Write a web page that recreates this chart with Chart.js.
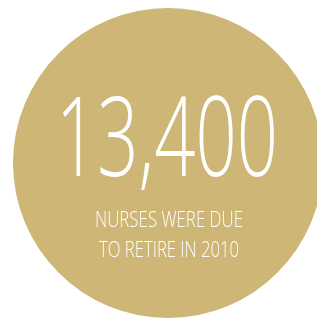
<!DOCTYPE html>
<html>
<head>
<meta charset="utf-8">
<script src="https://cdn.jsdelivr.net/npm/chart.js@4.4.1/dist/chart.umd.min.js"></script>
<style>
  html, body { margin: 0; padding: 0; background: #fff; overflow: hidden; }
  #wrap { width: 330px; height: 330px; }
</style>
</head>
<body>
<div id="wrap"><canvas id="statChart" width="330" height="330"></canvas></div>
<script>
const labels = ["Nurses due to retire in 2010"];
const values = [13400];
const bigLabel = "13,400";
const captionLines = ["NURSES WERE DUE", "TO RETIRE IN 2010"];

// draws the number and caption in the middle of the circle
const centerText = {
  id: "centerText",
  afterDraw(chart) {
    const ctx = chart.ctx;
    const arc = chart.getDatasetMeta(0).data[0];
    const cx = arc.x;
    const cy = arc.y;
    ctx.save();
    ctx.fillStyle = "#ffffff";
    ctx.textAlign = "center";
    ctx.textBaseline = "alphabetic";
    if ("fontStretch" in ctx) ctx.fontStretch = "condensed";

    ctx.font = "300 110px 'Open Sans'";
    fitText(ctx, bigLabel, cx - 1, cy + 13, 222);

    ctx.font = "300 22px 'Open Sans'";
    fitText(ctx, captionLines[0], cx + 1, cy + 64, 148);
    fitText(ctx, captionLines[1], cx + 1, cy + 94, 140);
    ctx.restore();
  }
};

function fitText(ctx, text, x, y, width) {
  const w = ctx.measureText(text).width;
  const s = width / w;
  ctx.save();
  ctx.translate(x, y);
  ctx.scale(s, 1);
  ctx.fillText(text, 0, 0);
  ctx.restore();
}

new Chart(document.getElementById("statChart"), {
  type: "pie",
  data: {
    labels: labels,
    datasets: [
      {
        data: values,
        backgroundColor: "#cdb676",
        borderWidth: 0,
        hoverOffset: 0,
      },
    ],
  },
  options: {
    responsive: false,
    animation: false,
    layout: {
      padding: { left: 13, top: 8, right: 7, bottom: 12 },
    },
    plugins: {
      legend: { display: false },
      tooltip: { enabled: false },
    },
  },
  plugins: [centerText],
});
</script>
</body>
</html>
